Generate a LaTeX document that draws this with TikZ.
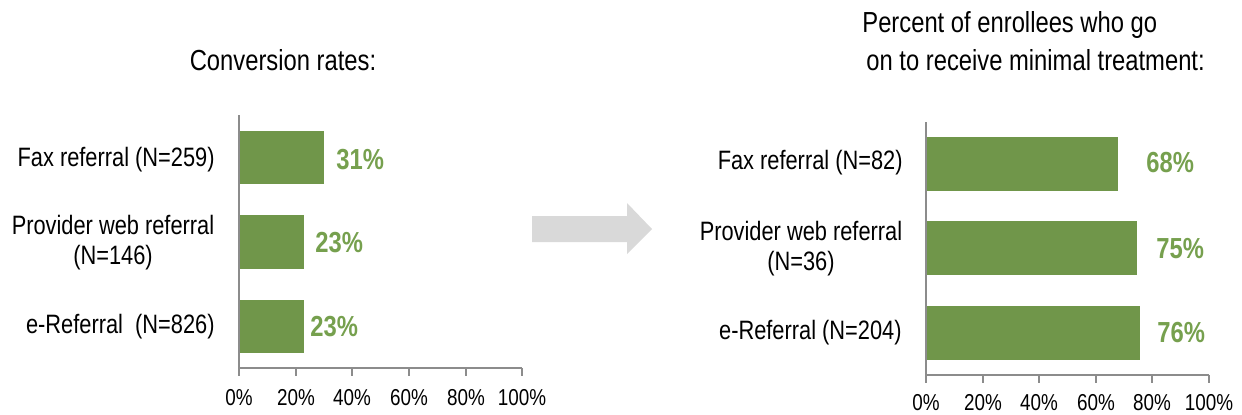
\documentclass[tikz,border=0pt]{standalone}
\usepackage{fontspec}
\setmainfont[FakeStretch=0.82]{Liberation Sans}
\usepackage{xcolor}
\usepackage{tikz}

\definecolor{barGreen}{RGB}{112,150,74}
\definecolor{labGreen}{RGB}{118,160,78}
\definecolor{axisGray}{RGB}{140,140,140}
\definecolor{arrowGray}{RGB}{217,217,217}

\tikzset{
  bar/.style={fill=barGreen},
  axisline/.style={draw=axisGray, line width=1pt},
  catlab/.style={inner sep=0pt, align=center, font=\fontsize{13.3}{15}\selectfont},
  pctlab/.style={inner sep=0pt, text=labGreen, font=\fontsize{14.5}{17}\selectfont\bfseries},
  ticklab/.style={inner sep=0pt, font=\fontsize{11.5}{14}\selectfont},
  titlelab/.style={inner sep=0pt, font=\fontsize{14.5}{19}\selectfont}
}

\begin{document}
\begin{tikzpicture}[x=0.5pt, y=-0.5pt]
            \useasboundingbox (0,0) rectangle (1242,414);

            % left chart: conversion rates
            \node[titlelab] (LT) at (283,60) {Conversion rates:};

            \fill[bar] (239,131) rectangle (324,184);
            \fill[bar] (239,215) rectangle (304,269);
            \fill[bar] (239,300) rectangle (304,353);

            \draw[axisline] (239,115) -- (239,376);
            \draw[axisline] (239,368) -- (522,368);
            \draw[axisline] (296,368) -- (296,376) (352,368) -- (352,376)
                            (409,368) -- (409,376) (466,368) -- (466,376)
                            (522,368) -- (522,376);

            \node[catlab, anchor=east] (LC1) at (215,160) {Fax referral (N=259)};
            \node[catlab] (LC2) at (113,243) {Provider web referral\\(N=146)};
            \node[catlab, anchor=east] (LC3) at (215,327) {e-Referral~ (N=826)};

            \node[pctlab, anchor=west] (LP1) at (336,160) {31\%};
            \node[pctlab, anchor=west] (LP2) at (315,243) {23\%};
            \node[pctlab, anchor=west] (LP3) at (310,327) {23\%};

            \node[ticklab] (LX0) at (239,398) {0\%};
            \node[ticklab] (LX1) at (296,398) {20\%};
            \node[ticklab] (LX2) at (352,398) {40\%};
            \node[ticklab] (LX3) at (409,398) {60\%};
            \node[ticklab] (LX4) at (466,398) {80\%};
            \node[ticklab] (LX5) at (522,398) {100\%};

            % arrow between the charts
            \fill[arrowGray] (532,216) -- (627,216) -- (627,203) -- (652,229)
                             -- (627,254) -- (627,242) -- (532,242) -- cycle;

            % right chart: minimal treatment
            \node[titlelab, align=left, anchor=west] (RT) at (862,41)
                 {Percent of enrollees who go\\\hspace{2pt}on to receive minimal treatment:};

            \fill[bar] (926,137) rectangle (1118,191);
            \fill[bar] (926,221) rectangle (1137,275);
            \fill[bar] (926,306) rectangle (1140,360);

            \draw[axisline] (926,122) -- (926,383);
            \draw[axisline] (926,375) -- (1209,375);
            \draw[axisline] (983,375) -- (983,383) (1039,375) -- (1039,383)
                            (1096,375) -- (1096,383) (1152,375) -- (1152,383)
                            (1209,375) -- (1209,383);

            \node[catlab, anchor=east] (RC1) at (903,163) {Fax referral (N=82)};
            \node[catlab] (RC2) at (801,249) {Provider web referral\\(N=36)};
            \node[catlab, anchor=east] (RC3) at (902,333) {e-Referral (N=204)};

            \node[pctlab, anchor=west] (RP1) at (1146,163) {68\%};
            \node[pctlab, anchor=west] (RP2) at (1156,249) {75\%};
            \node[pctlab, anchor=west] (RP3) at (1157,333) {76\%};

            \node[ticklab] (RX0) at (926,403) {0\%};
            \node[ticklab] (RX1) at (983,403) {20\%};
            \node[ticklab] (RX2) at (1039,403) {40\%};
            \node[ticklab] (RX3) at (1096,403) {60\%};
            \node[ticklab] (RX4) at (1152,403) {80\%};
            \node[ticklab] (RX5) at (1209,403) {100\%};
        \end{tikzpicture}
\end{document}
